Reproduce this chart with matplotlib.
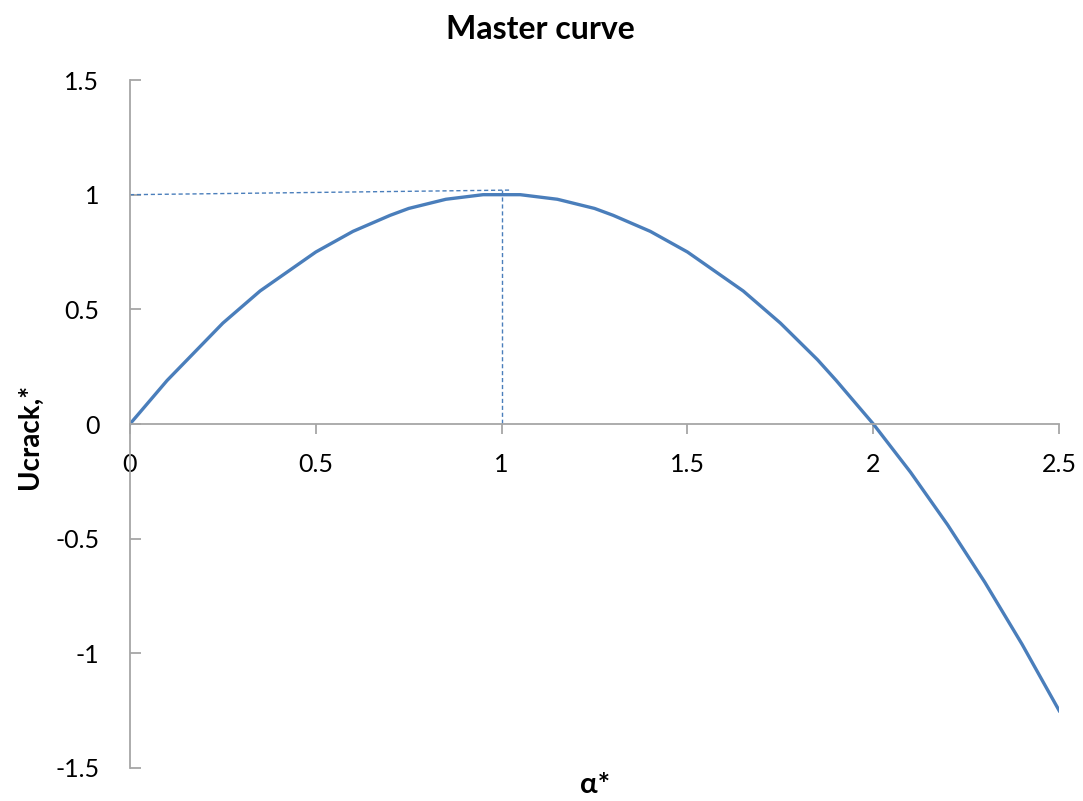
import matplotlib.pyplot as plt

# Master curve points: normalised crack length vs normalised energy
alpha = [0, 0.1, 0.25, 0.35, 0.5, 0.6, 0.7, 0.75, 0.85, 0.95, 1.05, 1.15,
         1.25, 1.3, 1.4, 1.5, 1.65, 1.75, 1.85, 1.9, 2.0, 2.1, 2.2, 2.3,
         2.4, 2.5]
ucrack = [0, 0.19, 0.44, 0.58, 0.75, 0.84, 0.91, 0.94, 0.98, 1.0, 1.0, 0.98,
          0.94, 0.91, 0.84, 0.75, 0.58, 0.44, 0.28, 0.19, 0, -0.21, -0.44,
          -0.69, -0.96, -1.25]

# guide lines marking the maximum
guide_h_x = [0, 1.02]
guide_h_y = [1.0, 1.02]
guide_v_x = [1.0, 1.0]
guide_v_y = [1.02, 0]

xticks = [0, 0.5, 1, 1.5, 2, 2.5]
yticks = [-1.5, -1, -0.5, 0, 0.5, 1, 1.5]

plt.rcParams['font.family'] = ['Lato', 'DejaVu Sans']

fig = plt.figure(figsize=(10.83, 8.01), dpi=100)
ax = fig.add_axes([0.12, 0.0412, 0.858, 0.8589])

blue = '#4a7ebb'
ax.plot(alpha, ucrack, color=blue, lw=2.4, solid_joinstyle='round')
ax.plot(guide_h_x, guide_h_y, color=blue, lw=1, ls=(0, (3, 2)))
ax.plot(guide_v_x, guide_v_y, color=blue, lw=1, ls=(0, (3, 2)))

ax.set_xlim(0, 2.5)
ax.set_ylim(-1.5, 1.5)

# axes cross at the origin, Excel style
grey = '#a6a6a6'
ax.spines['left'].set_position(('data', 0))
ax.spines['bottom'].set_position(('data', 0))
ax.spines['top'].set_visible(False)
ax.spines['right'].set_visible(False)
ax.spines['left'].set_color(grey)
ax.spines['bottom'].set_color(grey)
ax.spines['left'].set_linewidth(1.3)
ax.spines['bottom'].set_linewidth(1.3)

ax.set_xticks(xticks)
ax.set_yticks(yticks)
ax.set_xticklabels([f'{t:g}' for t in xticks])
ax.set_yticklabels([f'{t:g}' for t in yticks])
ax.tick_params(axis='x', direction='out', length=7, width=1.3, color=grey,
               labelsize=18, pad=14)
ax.tick_params(axis='y', direction='in', length=8, width=1.3, color=grey,
               labelsize=18, pad=22)

fig.text(0.499, 0.963, 'Master curve', ha='center', va='center',
         fontsize=23, fontweight='bold')
fig.text(0.028, 0.455, 'Ucrack,*', ha='center', va='center', rotation=90,
         fontsize=20, fontweight='bold')
fig.text(0.549, 0.004, 'α*', ha='center', va='bottom',
         fontsize=21, fontweight='bold')

fig.savefig('out.png', dpi=100)
